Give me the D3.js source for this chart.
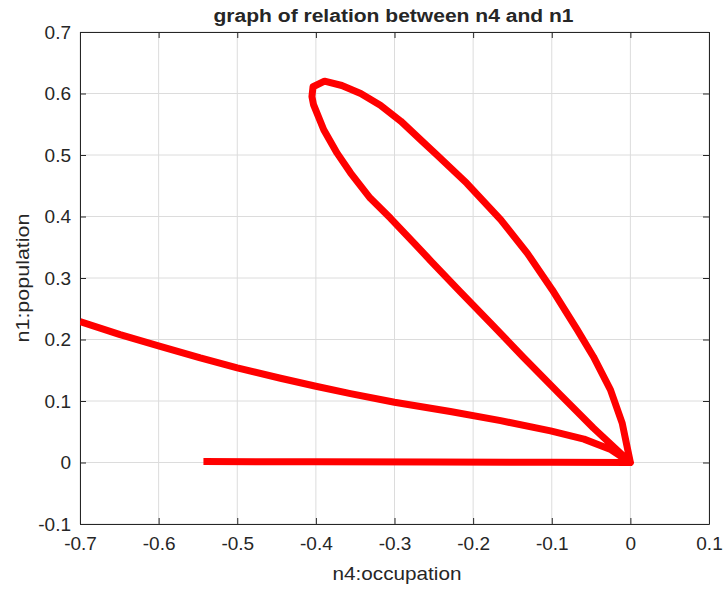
<!DOCTYPE html>
<html>
<head>
<meta charset="utf-8">
<script src="https://cdn.jsdelivr.net/npm/d3@7"></script>
<style>
  body { margin: 0; background: #fff; }
  text { font-family: "Liberation Sans", Arial, Helvetica, sans-serif; fill: #262626; }
</style>
</head>
<body>
<div id="chart"></div>
<script>
var svgWidth = 727;
var svgHeight = 590;

var margin = { top: 32, right: 18, bottom: 66, left: 80 };
var width = svgWidth - margin.left - margin.right;
var height = svgHeight - margin.top - margin.bottom;

// trajectory n4 (x) vs n1 (y)
var n4 = [-0.543, -0.40, -0.25, -0.10, 0,
  -0.0104, -0.0253, -0.047, -0.0677, -0.0995, -0.131, -0.165, -0.208, -0.246,
  -0.267, -0.292, -0.318, -0.343, -0.367, -0.389, -0.4036, -0.405, -0.403,
  -0.390, -0.373, -0.356, -0.331, -0.305, -0.273, -0.254, -0.216, -0.178,
  -0.136, -0.089, -0.047, -0.0125, 0,
  -0.025, -0.059, -0.1015, -0.165, -0.229, -0.30, -0.356, -0.40, -0.445,
  -0.50, -0.547, -0.598, -0.649, -0.70];
var n1 = [0.0016, 0.0012, 0.0008, 0.0004, 0,
  0.064, 0.118, 0.172, 0.216, 0.281, 0.340, 0.395, 0.454, 0.500,
  0.525, 0.555, 0.581, 0.600, 0.613, 0.620, 0.611, 0.595, 0.582,
  0.541, 0.503, 0.471, 0.430, 0.397, 0.354, 0.328, 0.277, 0.227,
  0.171, 0.110, 0.056, 0.015, 0,
  0.021, 0.038, 0.0515, 0.068, 0.083, 0.098, 0.112, 0.124, 0.137,
  0.154, 0.170, 0.189, 0.208, 0.229];

var xTicks = [-0.7, -0.6, -0.5, -0.4, -0.3, -0.2, -0.1, 0, 0.1];
var yTicks = [-0.1, 0, 0.1, 0.2, 0.3, 0.4, 0.5, 0.6, 0.7];

var svg = d3.select("#chart")
  .append("svg")
  .attr("width", svgWidth)
  .attr("height", svgHeight);

var chartGroup = svg.append("g")
  .attr("transform", `translate(${margin.left}, ${margin.top})`);

var xScale = d3.scaleLinear().domain([-0.7, 0.1]).range([0, width]);
var yScale = d3.scaleLinear().domain([-0.1, 0.7]).range([height, 0]);

// grid
chartGroup.append("g")
  .selectAll("line")
  .data(xTicks)
  .enter()
  .append("line")
  .attr("x1", d => xScale(d)).attr("x2", d => xScale(d))
  .attr("y1", 0).attr("y2", height)
  .attr("stroke", "#dcdcdc").attr("stroke-width", 1);

chartGroup.append("g")
  .selectAll("line")
  .data(yTicks)
  .enter()
  .append("line")
  .attr("y1", d => yScale(d)).attr("y2", d => yScale(d))
  .attr("x1", 0).attr("x2", width)
  .attr("stroke", "#dcdcdc").attr("stroke-width", 1);

// axes, ticks pointing inward like matlab
var fmt = d => d === 0 ? "0" : d3.format(".1f")(d).replace("−", "-");

var bottomAxis = d3.axisBottom(xScale).tickValues(xTicks).tickSizeInner(-6).tickSizeOuter(0).tickPadding(13).tickFormat(fmt);
var leftAxis = d3.axisLeft(yScale).tickValues(yTicks).tickSizeInner(-6).tickSizeOuter(0).tickPadding(9).tickFormat(fmt);
var topAxis = d3.axisTop(xScale).tickValues(xTicks).tickSizeInner(-6).tickSizeOuter(0).tickFormat("");
var rightAxis = d3.axisRight(yScale).tickValues(yTicks).tickSizeInner(-6).tickSizeOuter(0).tickFormat("");

function styleAxis(g) {
  g.selectAll("path").attr("stroke", "#262626");
  g.selectAll("line").attr("stroke", "#262626");
  g.selectAll("text").attr("font-size", "19px").attr("fill", "#262626")
    .attr("font-family", "'Liberation Sans', Arial, sans-serif");
}

chartGroup.append("g").attr("transform", `translate(0, ${height})`).call(bottomAxis).call(styleAxis);
chartGroup.append("g").call(leftAxis).call(styleAxis);
chartGroup.append("g").call(topAxis).call(styleAxis);
chartGroup.append("g").attr("transform", `translate(${width}, 0)`).call(rightAxis).call(styleAxis);

// clip + line
svg.append("defs").append("clipPath").attr("id", "clip")
  .append("rect").attr("width", width).attr("height", height);

var pts = n4.map((d, i) => [d, n1[i]]);
var line = d3.line()
  .x(d => xScale(d[0]))
  .y(d => yScale(d[1]));

chartGroup.append("path")
  .datum(pts)
  .attr("clip-path", "url(#clip)")
  .attr("d", line)
  .attr("fill", "none")
  .attr("stroke", "#ff0000")
  .attr("stroke-width", 7)
  .attr("stroke-linejoin", "round")
  .attr("stroke-linecap", "butt");

// title and labels
svg.append("text")
  .attr("x", 393.5)
  .attr("y", 22)
  .attr("text-anchor", "middle")
  .attr("font-size", "18px")
  .attr("font-weight", "bold")
  .attr("fill", "#000")
  .attr("textLength", 360)
  .attr("lengthAdjust", "spacingAndGlyphs")
  .text("graph of relation between n4 and n1");

svg.append("text")
  .attr("x", 397)
  .attr("y", 580)
  .attr("text-anchor", "middle")
  .attr("font-size", "19px")
  .attr("textLength", 129)
  .attr("lengthAdjust", "spacingAndGlyphs")
  .text("n4:occupation");

svg.append("text")
  .attr("transform", "rotate(-90)")
  .attr("x", -278)
  .attr("y", 29)
  .attr("text-anchor", "middle")
  .attr("font-size", "19px")
  .attr("textLength", 129)
  .attr("lengthAdjust", "spacingAndGlyphs")
  .text("n1:population");
</script>
</body>
</html>
